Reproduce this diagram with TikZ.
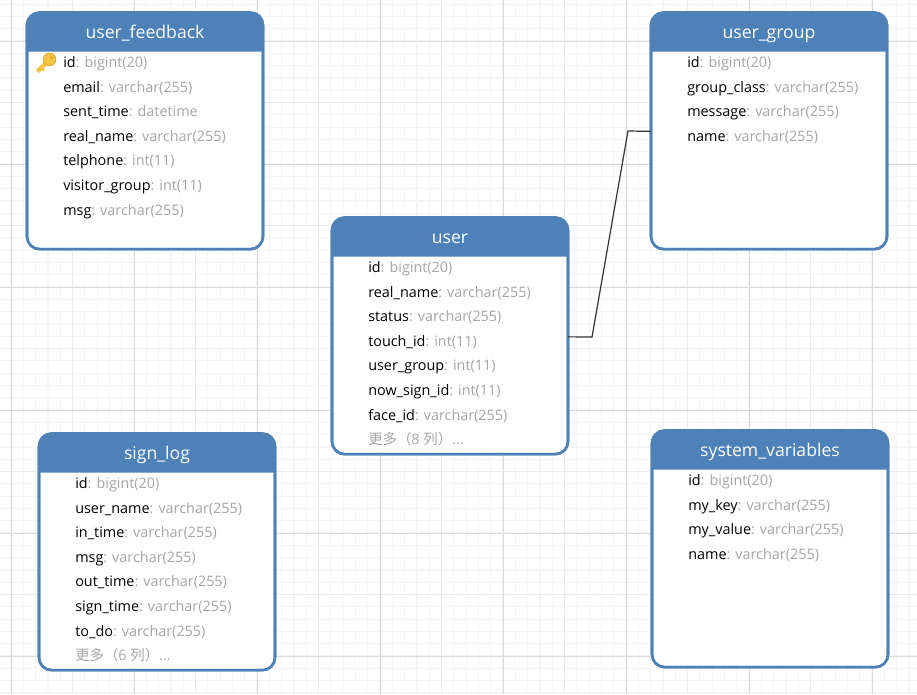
\documentclass[tikz,border=0pt]{standalone}
\usepackage{fontspec}
\setmainfont{Open Sans}
\newfontfamily\cjkfont{Noto Sans CJK SC}
\definecolor{hdr}{HTML}{4D81B8}
\definecolor{typ}{HTML}{A6A6A6}
\definecolor{gmaj}{HTML}{DADADA}
\definecolor{gmid}{HTML}{EBEBEB}
\definecolor{gmin}{HTML}{F5F5F5}
\definecolor{conn}{HTML}{333333}
\definecolor{keyfill}{HTML}{F6C445}
\definecolor{keyedge}{HTML}{DDA42A}
\tikzset{
  tablebox/.style={draw=hdr,line width=1.9pt,fill=white,rounded corners=9.5pt,
    minimum width=177pt,minimum height=177.5pt,inner sep=0pt,outer sep=0pt,anchor=north west},
  titletext/.style={text=white,font=\fontsize{13.2}{15}\selectfont,anchor=base,inner sep=0pt},
  rowtext/.style={text=black,font=\fontsize{10.8}{13}\selectfont,anchor=base west,inner sep=0pt},
  connector/.style={draw=conn,line width=0.9pt},
}
\newcommand{\fld}[2]{#1\textcolor{typ}{: #2}}
\newcommand{\more}[1]{\textcolor{typ}{{\cjkfont 更多（}#1 {\cjkfont 列）}...}}
\newcommand{\tablefig}[5]{% name, left, top, title, rows
  \node[tablebox] (#1) at (#2,#3) {};
  \fill[hdr] ([yshift=-29.25pt]#1.north west) [rounded corners=9.5pt] -- (#1.north west) -- (#1.north east) [sharp corners] -- ([yshift=-29.25pt]#1.north east) -- cycle;
  \draw[hdr,line width=1.9pt,rounded corners=9.5pt] (#1.north west) rectangle (#1.south east);
  \node[titletext] (#1-title) at ([yshift=-19.5pt]#1.north) {#4};
  \foreach \rowtxt [count=\rn from 0] in {#5} {
    \node[rowtext] (#1-r\rn) at ([xshift=27pt,yshift=-41.3pt-18.45pt*\rn]#1.north west) {\rowtxt};
  }
}
\begin{document}
\begin{tikzpicture}[x=0.75pt,y=-0.75pt]
\useasboundingbox (0,0) rectangle (917,694);
\fill[white] (0,0) rectangle (917,694);
% grid
\foreach \k in {0,...,74} \draw[gmin,line width=0.9pt] ({11+12.3*\k},0) -- ({11+12.3*\k},694);
\foreach \k in {-3,...,53} \draw[gmin,line width=0.9pt] (0,{41+12.3*\k}) -- (917,{41+12.3*\k});
\foreach \k in {5,15,...,75} \draw[gmid,line width=1.2pt] ({11+12.3*\k},0) -- ({11+12.3*\k},694);
\foreach \k in {5,15,...,55} \draw[gmid,line width=1.2pt] (0,{41+12.3*\k}) -- (917,{41+12.3*\k});
\foreach \k in {0,10,...,70} \draw[gmaj,line width=0.75pt] ({11+12.3*\k},0) -- ({11+12.3*\k},694);
\foreach \k in {0,10,...,50} \draw[gmaj,line width=0.75pt] (0,{41+12.3*\k}) -- (917,{41+12.3*\k});
\tablefig{userfeedback}{27}{12.5}{user\_feedback}{
  {\fld{id}{bigint(20)}},{\fld{email}{varchar(255)}},{\fld{sent\_time}{datetime}},
  {\fld{real\_name}{varchar(255)}},{\fld{telphone}{int(11)}},{\fld{visitor\_group}{int(11)}},
  {\fld{msg}{varchar(255)}}}
\tablefig{usergroup}{651}{12.5}{user\_group}{
  {\fld{id}{bigint(20)}},{\fld{group\_class}{varchar(255)}},{\fld{message}{varchar(255)}},
  {\fld{name}{varchar(255)}}}
\tablefig{user}{332}{217.5}{user}{
  {\fld{id}{bigint(20)}},{\fld{real\_name}{varchar(255)}},{\fld{status}{varchar(255)}},
  {\fld{touch\_id}{int(11)}},{\fld{user\_group}{int(11)}},{\fld{now\_sign\_id}{int(11)}},
  {\fld{face\_id}{varchar(255)}},{\more{8}}}
\tablefig{signlog}{39}{433.5}{sign\_log}{
  {\fld{id}{bigint(20)}},{\fld{user\_name}{varchar(255)}},{\fld{in\_time}{varchar(255)}},
  {\fld{msg}{varchar(255)}},{\fld{out\_time}{varchar(255)}},{\fld{sign\_time}{varchar(255)}},
  {\fld{to\_do}{varchar(255)}},{\more{6}}}
\tablefig{sysvars}{652}{430.5}{system\_variables}{
  {\fld{id}{bigint(20)}},{\fld{my\_key}{varchar(255)}},{\fld{my\_value}{varchar(255)}},
  {\fld{name}{varchar(255)}}}
% connector
\coordinate (bendA) at (592,337);
\coordinate (bendB) at (628,131);
\draw[connector] ([yshift=-0.75pt]user.east) -- (bendA) -- (bendB) -- ([yshift=-0.4pt]usergroup.west);
% key icon
\draw[keyfill,line width=3.2pt] (48,61) -- (37.5,71.5);
\draw[keyfill,line width=1.6pt] (41,67.5) -- (44,70.5);
\draw[keyedge,line width=0.5pt,fill=keyfill] (49.5,59.5) circle [radius=6.4];
\fill[keyedge] (51.5,57.5) circle [radius=1.5];
\end{tikzpicture}
\end{document}
